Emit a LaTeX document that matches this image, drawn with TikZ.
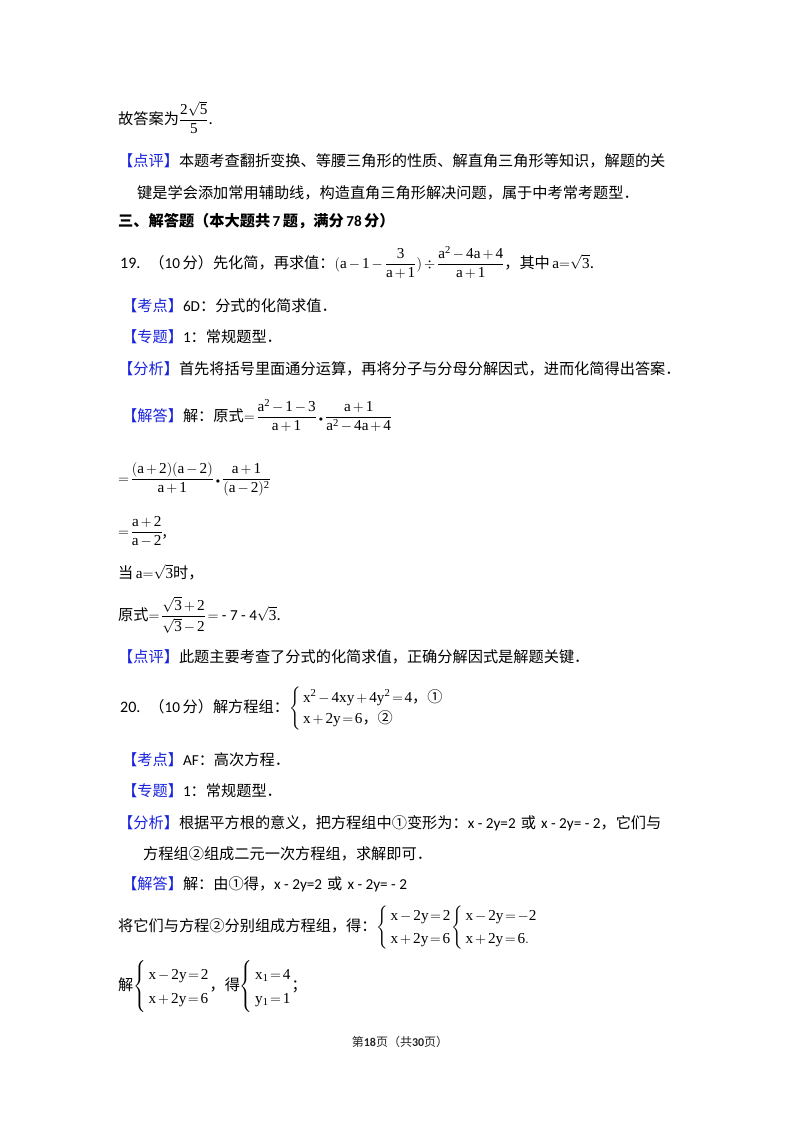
\documentclass[tikz,border=0pt]{standalone}
\usepackage{fontspec}
\usepackage{amsmath}
\setmainfont{Noto Sans CJK SC}
\setmathrm{Liberation Serif}
\newfontfamily\lat{Carlito}
\definecolor{labblue}{RGB}{25,35,220}
\newcommand\lab[1]{\textcolor{labblue}{【#1】}}
\newcommand\mdot{\mathbin{\scriptscriptstyle\bullet}}
\medmuskip=2.5mu
\thickmuskip=2mu
\tikzset{
  txt/.style={anchor=base west, inner sep=0pt, font=\fontsize{15.2}{18}\selectfont},
  foot/.style={anchor=center, inner sep=0pt, font=\fontsize{12}{14}\selectfont, text=black!85}
}
\begin{document}
\begin{tikzpicture}[x=1pt,y=-1pt]
\fill[white] (0,0) rectangle (800,1132);
\useasboundingbox (0,0) rectangle (800,1132);

\node[txt] (l1) at (118,124) {故答案为$\dfrac{\mathrm{2}\sqrt{\mathrm{5}}}{\mathrm{5}}$.};
\node[txt] (l2) at (118,166) {\lab{点评}本题考查翻折变换、等腰三角形的性质、解直角三角形等知识，解题的关};
\node[txt] (l3) at (137,198) {键是学会添加常用辅助线，构造直角三角形解决问题，属于中考常考题型．};
\node[txt] (l4) at (118,226) {\bfseries 三、解答题（本大题共\,{\lat 7}\,题，满分\,{\lat 78}\,分）};
\node[txt] (l5) at (120,268) {{\lat\fontsize{16}{18}\selectfont 19.}\hspace{9pt}（{\lat 10}\,分）先化简，再求值：$\mathrm{(a-1-\dfrac{3}{a+1})\div\dfrac{a^{2}-4a+4}{a+1}}$，其中\,$\mathrm{a{=}\sqrt{3}}$.};
\node[txt] (l6) at (122,311) {\lab{考点}{\lat 6D}：分式的化简求值．};
\node[txt] (l7) at (122,342) {\lab{专题}{\lat 1}：常规题型．};
\node[txt] (l8) at (118,374) {\lab{分析}首先将括号里面通分运算，再将分子与分母分解因式，进而化简得出答案．};
\node[txt] (l9) at (122,421) {\lab{解答}解：原式$=\mathrm{\dfrac{a^{2}-1-3}{a+1}}\mdot\mathrm{\dfrac{a+1}{a^{2}-4a+4}}$};
\node[txt] (l10) at (118,483) {$=\mathrm{\dfrac{(a+2)(a-2)}{a+1}}\mdot\mathrm{\dfrac{a+1}{(a-2)^{2}}}$};
\node[txt] (l11) at (118,536) {$=\mathrm{\dfrac{a+2}{a-2}}$,};
\node[txt] (l12) at (118,578) {当\,$\mathrm{a{=}\sqrt{3}}$时，};
\node[txt] (l13) at (118,620) {原式$=\mathrm{\dfrac{\sqrt{3}+2}{\sqrt{3}-2}}=${\lat\ -\ 7\ -\ 4}$\sqrt{\mathrm{3}}$.};
\node[txt] (l14) at (118,662) {\lab{点评}此题主要考查了分式的化简求值，正确分解因式是解题关键．};
\node[txt] (l15) at (120,712) {{\lat\fontsize{16}{18}\selectfont 20.}\hspace{9pt}（{\lat 10}\,分）解方程组：{\renewcommand\arraystretch{1.17}$\left\{\begin{array}{@{\,}l@{}}\mathrm{x^{2}-4xy+4y^{2}=4}\mbox{，①}\\ \mathrm{x+2y=6}\mbox{，②}\end{array}\right.$}};
\node[txt] (l16) at (122,765) {\lab{考点}{\lat AF}：高次方程．};
\node[txt] (l17) at (122,796) {\lab{专题}{\lat 1}：常规题型．};
\node[txt] (l18) at (118,828) {\lab{分析}根据平方根的意义，把方程组中①变形为：{\lat x - 2y=2}\,\,或\,\,{\lat x - 2y= - 2}，它们与};
\node[txt] (l19) at (143,859) {方程组②组成二元一次方程组，求解即可．};
\node[txt] (l20) at (122,889) {\lab{解答}解：由①得，{\lat x - 2y=2}\,\,或\,\,{\lat x - 2y= - 2}};
\node[txt] (l21) at (118,931) {将它们与方程②分别组成方程组，得：{\renewcommand\arraystretch{1.3}$\left\{\begin{array}{@{\,}l@{}}\mathrm{x-2y=2}\\ \mathrm{x+2y=6}\end{array}\right.\!\left\{\begin{array}{@{\,}l@{}}\mathrm{x-2y=-2}\\ \mathrm{x+2y=6.}\end{array}\right.$}};
\node[txt] (l22) at (118,990) {解{\renewcommand\arraystretch{1.35}$\left\{\begin{array}{@{\,}l@{}}\mathrm{x-2y=2}\\ \mathrm{x+2y=6}\end{array}\right.$，得$\left\{\begin{array}{@{\,}l@{}}\mathrm{x_{1}=4}\\ \mathrm{y_{1}=1}\end{array}\right.$；}};
\node[foot] (ft) at (400,1042) {第{\lat\bfseries 18}页（共{\lat\bfseries 30}页）};
\end{tikzpicture}
\end{document}
